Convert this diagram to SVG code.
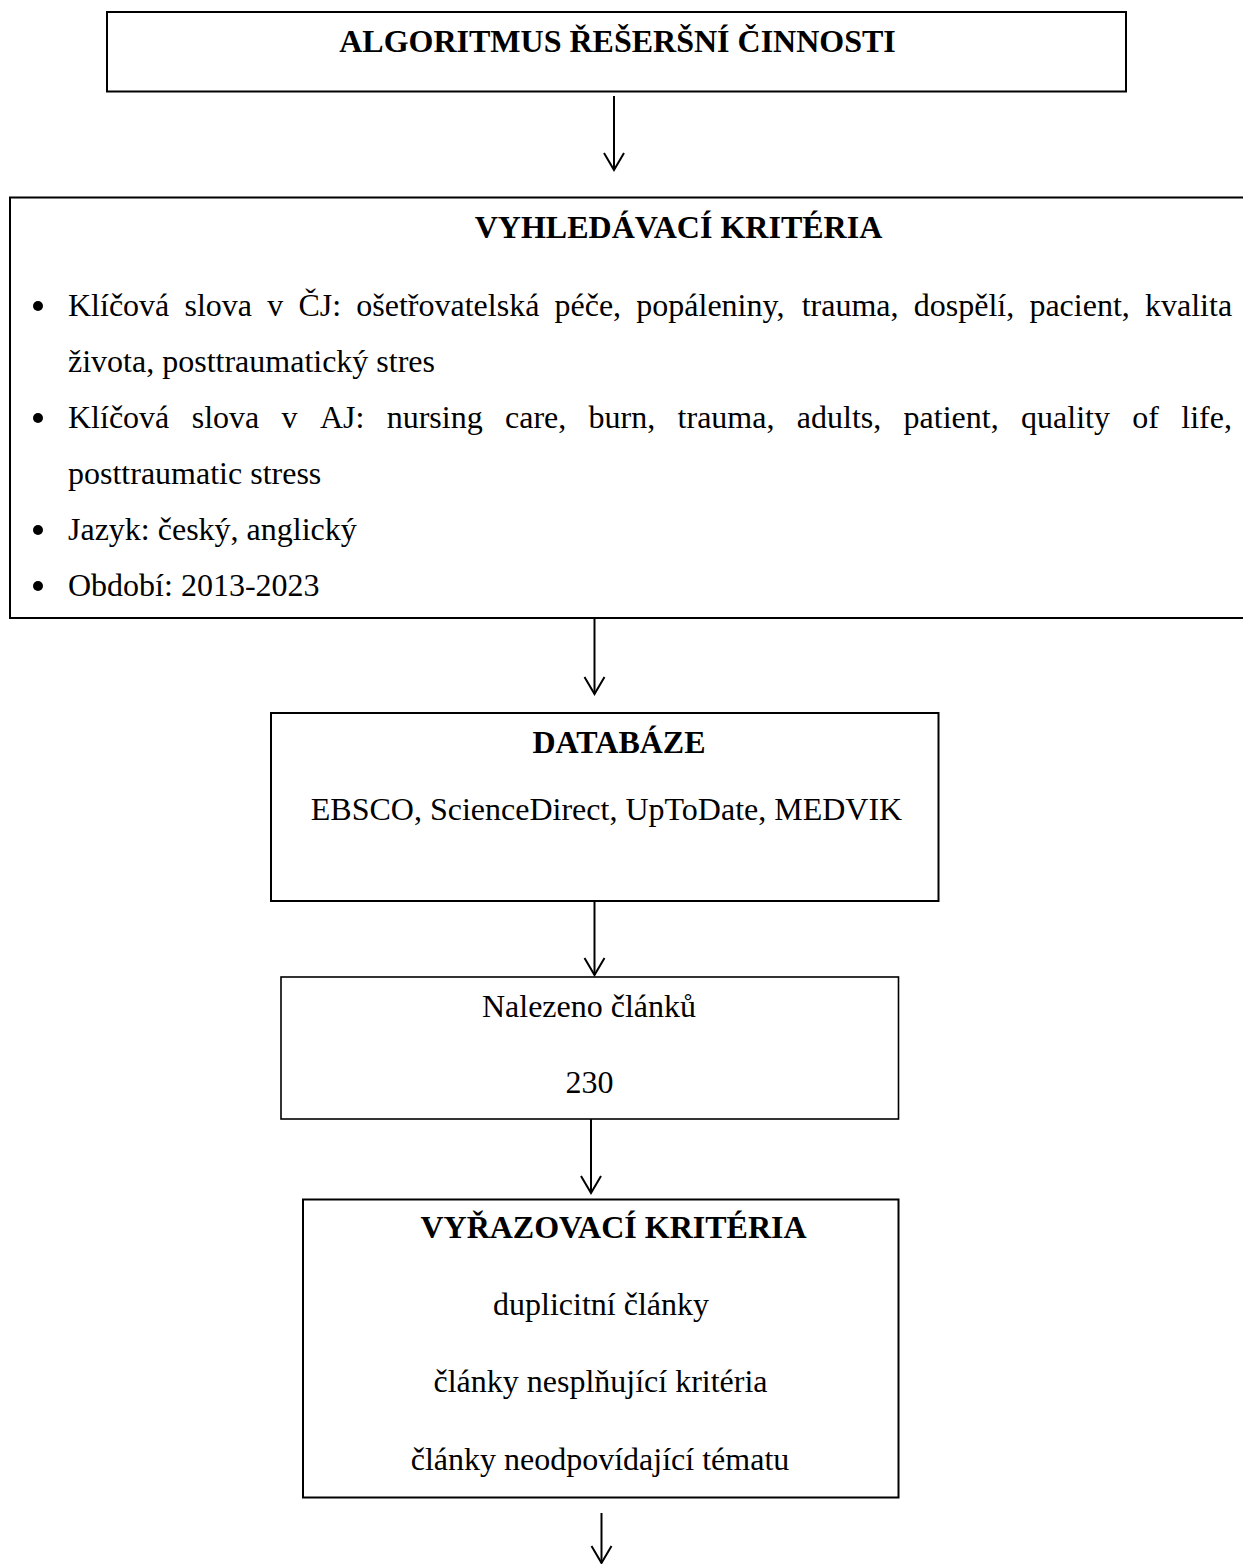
<svg xmlns="http://www.w3.org/2000/svg" width="1243" height="1564" viewBox="0 0 1243 1564">
<style>
  .box { fill: #ffffff; stroke: #000000; stroke-width: 2; }
  .thin { stroke-width: 1.6; }
  .t { font-family: "Liberation Serif", "Times New Roman", serif; font-size: 32px; fill: #000000; }
  .b { font-weight: bold; }
  .c { text-anchor: middle; }
  .conn { stroke: #000000; stroke-width: 2; fill: none; marker-end: url(#arr); }
</style>
<defs>
  <marker id="arr" markerUnits="userSpaceOnUse" viewBox="-20 -12 22 24" refX="0" refY="0" markerWidth="22" markerHeight="24" orient="auto" overflow="visible">
    <path d="M-17,-10 L0,0 L-17,10" fill="none" stroke="#000000" stroke-width="2"/>
  </marker>
</defs>
<rect width="1243" height="1564" fill="#ffffff"/>

<g id="connectors">
  <line class="conn" x1="614" y1="96" x2="614" y2="170"/>
  <line class="conn" x1="594.5" y1="618" x2="594.5" y2="694"/>
  <line class="conn" x1="594.5" y1="901" x2="594.5" y2="975"/>
  <line class="conn" x1="591" y1="1119" x2="591" y2="1193"/>
  <line class="conn" x1="601.5" y1="1513" x2="601.5" y2="1563"/>
</g>

<g id="node-title">
  <rect class="box" x="107" y="12" width="1019" height="79.5"/>
  <text class="t b c" x="617.5" y="52">ALGORITMUS ŘEŠERŠNÍ ČINNOSTI</text>
</g>

<g id="node-vyhledavaci">
  <rect class="box" x="10" y="197.5" width="1260" height="420.5"/>
  <text class="t b c" x="678.5" y="238">VYHLEDÁVACÍ KRITÉRIA</text>
  <circle cx="38" cy="306" r="5"/>
  <circle cx="38" cy="418" r="5"/>
  <circle cx="38" cy="530" r="5"/>
  <circle cx="38" cy="586" r="5"/>
  <text class="t" y="316"><tspan x="68">Klíčová</tspan><tspan x="184.5">slova</tspan><tspan x="267.2">v</tspan><tspan x="298.4">ČJ:</tspan><tspan x="356.3">ošetřovatelská</tspan><tspan x="554.5">péče,</tspan><tspan x="636.3">popáleniny,</tspan><tspan x="801.7">trauma,</tspan><tspan x="913.8">dospělí,</tspan><tspan x="1029.4">pacient,</tspan><tspan x="1145">kvalita</tspan></text>
  <text class="t" x="68" y="372">života, posttraumatický stres</text>
  <text class="t" y="428"><tspan x="68">Klíčová</tspan><tspan x="191.7">slova</tspan><tspan x="281.5">v</tspan><tspan x="319.9">AJ:</tspan><tspan x="386.7">nursing</tspan><tspan x="505">care,</tspan><tspan x="588.6">burn,</tspan><tspan x="677.6">trauma,</tspan><tspan x="796.8">adults,</tspan><tspan x="903.6">patient,</tspan><tspan x="1021.1">quality</tspan><tspan x="1132.3">of</tspan><tspan x="1181.3">life,</tspan></text>
  <text class="t" x="68" y="484">posttraumatic stress</text>
  <text class="t" x="68" y="540">Jazyk: český, anglický</text>
  <text class="t" x="68" y="596">Období: 2013-2023</text>
</g>

<g id="node-databaze">
  <rect class="box" x="271" y="713" width="667.5" height="188"/>
  <text class="t b c" x="619" y="753">DATABÁZE</text>
  <text class="t c" x="606.5" y="820">EBSCO, ScienceDirect, UpToDate, MEDVIK</text>
</g>

<g id="node-nalezeno">
  <rect class="box thin" x="281" y="977" width="617.5" height="142"/>
  <text class="t c" x="589" y="1017">Nalezeno článků</text>
  <text class="t c" x="589.5" y="1093">230</text>
</g>

<g id="node-vyrazovaci">
  <rect class="box" x="303" y="1199.5" width="595.5" height="298"/>
  <text class="t b c" x="613.5" y="1238">VYŘAZOVACÍ KRITÉRIA</text>
  <text class="t c" x="601" y="1315">duplicitní články</text>
  <text class="t c" x="600.5" y="1392">články nesplňující kritéria</text>
  <text class="t c" x="600" y="1470">články neodpovídající tématu</text>
</g>
</svg>
